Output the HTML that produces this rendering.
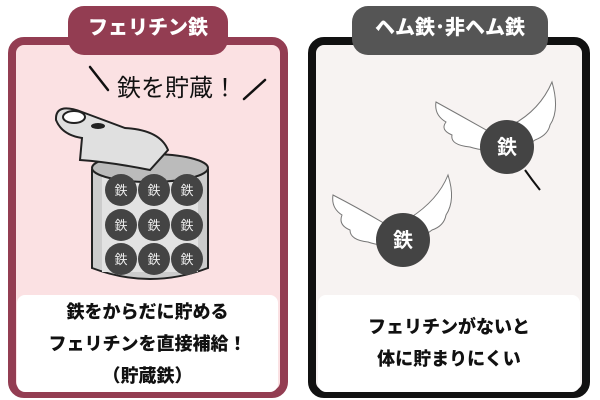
<!DOCTYPE html>
<html><head><meta charset="utf-8"><style>
body{margin:0;width:600px;height:400px;background:#fff;position:relative;overflow:hidden;font-family:"Liberation Sans","Noto Sans CJK JP",sans-serif}
.abs{position:absolute}
.txt{font-weight:900;font-size:18px;text-align:center;color:#111;line-height:32px}
</style></head><body>
<div class="abs" style="left:8px;top:37px;width:264px;height:345px;border:8px solid #933d52;border-radius:16px;background:#fbe1e3"></div>
<div class="abs" style="left:68px;top:6px;width:160px;height:49px;background:#933d52;border-radius:16px;color:#fff;font-weight:900;font-size:20px;text-align:center;line-height:44px">フェリチン鉄</div>
<div class="abs" style="left:17px;top:295px;width:261px;height:97px;background:#fff;border-radius:8px"></div>
<div class="abs txt" style="left:17px;top:296px;width:261px">鉄をからだに貯める<br>フェリチンを直接補給！<br>（貯蔵鉄）</div>

<div class="abs" style="left:308px;top:37px;width:266px;height:345px;border:8px solid #111;border-radius:16px;background:#f7f3f2"></div>
<div class="abs" style="left:352px;top:6px;width:196px;height:49px;background:#555;border-radius:16px;color:#fff;font-weight:900;font-size:20px;text-align:center;line-height:44px">ヘム鉄･非ヘム鉄</div>
<div class="abs" style="left:318px;top:295px;width:262px;height:97px;background:#fff;border-radius:8px"></div>
<div class="abs txt" style="left:318px;top:311px;width:262px">フェリチンがないと<br>体に貯まりにくい</div>

<svg class="abs" style="left:0;top:0" width="600" height="400">
<g stroke="#111" stroke-width="2.5" fill="none" stroke-linecap="round">
<line x1="90" y1="67" x2="108" y2="90"/><line x1="244" y1="99" x2="265" y2="80"/>
</g>
<text x="177" y="96" text-anchor="middle" font-size="24" fill="#111" font-family="Liberation Sans,Noto Sans CJK JP,sans-serif">鉄を貯蔵！</text>
<!-- can -->
<path d="M92 170 L92 268 Q150 290 208 268 L208 170 Z" fill="#ccc" stroke="#222" stroke-width="2"/>
<rect x="102" y="172" width="96" height="100" fill="#e2e2e2"/>
<ellipse cx="150" cy="168" rx="58" ry="14" fill="#bbb" stroke="#222" stroke-width="2"/>
<path d="M80 160 Q110 162 150 170 L168 150 Q160 130 125 128 L82 112 Q55 102 56 120 Q62 135 82 138 Z" fill="#e0e0e0" stroke="#222" stroke-width="2"/>
<ellipse cx="74" cy="117" rx="11" ry="6" fill="#fff" stroke="#222" stroke-width="2"/>
<ellipse cx="98" cy="126" rx="7" ry="3" fill="#222"/>
<g fill="#444">
<circle cx="121" cy="190" r="16"/><circle cx="154" cy="190" r="16"/><circle cx="187" cy="190" r="16"/>
<circle cx="121" cy="225" r="16"/><circle cx="154" cy="225" r="16"/><circle cx="187" cy="225" r="16"/>
<circle cx="121" cy="259" r="16"/><circle cx="154" cy="259" r="16"/><circle cx="187" cy="259" r="16"/>
</g>
<g fill="#eee" font-size="13" text-anchor="middle" font-family="Liberation Sans,Noto Sans CJK JP,sans-serif">
<text x="121" y="195">鉄</text><text x="154" y="195">鉄</text><text x="187" y="195">鉄</text>
<text x="121" y="230">鉄</text><text x="154" y="230">鉄</text><text x="187" y="230">鉄</text>
<text x="121" y="264">鉄</text><text x="154" y="264">鉄</text><text x="187" y="264">鉄</text>
</g>
<!-- wings -->
<g fill="#fff" stroke="#777" stroke-width="1">
<path d="M495 135 Q465 118 436 102 Q434 115 446 122 Q440 130 452 135 Q450 145 470 147 Q485 152 498 148 Z"/>
<path d="M512 125 Q540 110 552 82 Q560 110 550 125 Q548 135 535 140 Q525 148 515 150 Z"/>
<path d="M392 228 Q362 210 333 195 Q331 208 342 215 Q338 225 350 230 Q350 240 368 242 Q382 247 395 244 Z"/>
<path d="M410 218 Q438 200 448 175 Q456 200 446 215 Q444 226 432 230 Q422 238 412 238 Z"/>
</g>
<path d="M525 170 Q532 180 540 190" stroke="#111" stroke-width="2" fill="none"/>
<circle cx="507" cy="147" r="27" fill="#444"/>
<circle cx="403" cy="240" r="27" fill="#444"/>
<g fill="#fff" font-size="20" font-weight="bold" text-anchor="middle" font-family="Liberation Sans,Noto Sans CJK JP,sans-serif">
<text x="507" y="154">鉄</text><text x="403" y="247">鉄</text></g>
</svg>
</body></html>
